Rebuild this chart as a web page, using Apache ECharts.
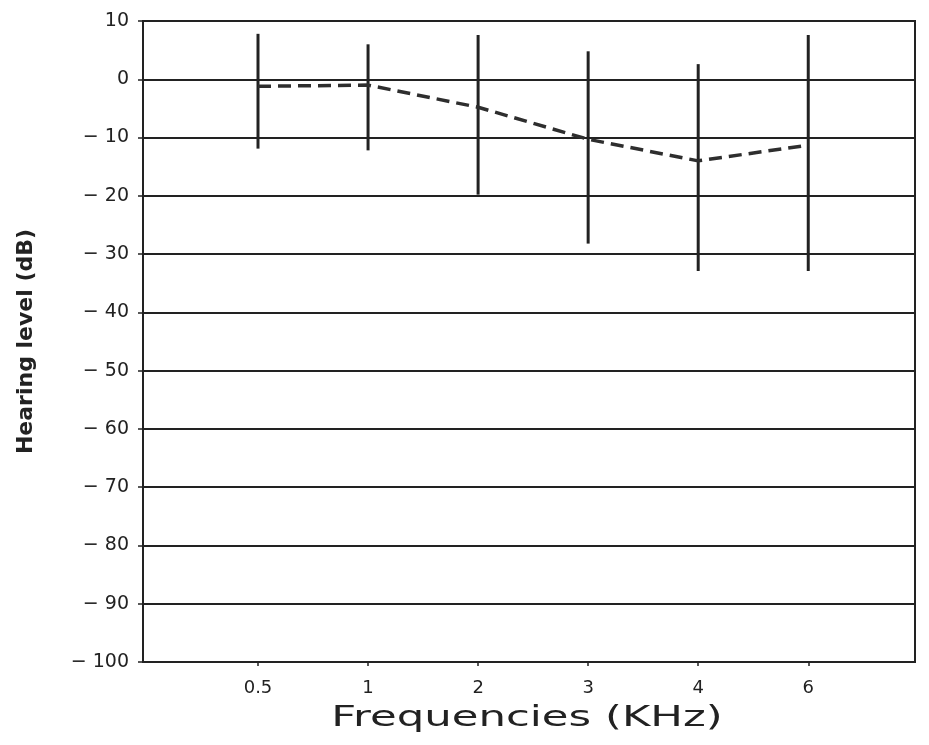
<!DOCTYPE html>
<html><head><meta charset="utf-8">
<script src="https://cdn.jsdelivr.net/npm/echarts@6/dist/echarts.min.js"></script>
<style>html,body{margin:0;padding:0;background:#fff}#c{width:929px;height:745px}</style>
</head><body><div id="c"></div>
<script>
// Data
var freqLabels = ['0.5', '1', '2', '3', '4', '6'];
var meanValues = [-1.2, -1.0, -4.8, -10.3, -14.0, -11.3];
var upperValues = [7.8, 6.0, 7.6, 4.8, 2.6, 7.6];
var lowerValues = [-11.9, -12.2, -19.8, -28.2, -32.9, -32.9];
var yTicks = [10, 0, -10, -20, -30, -40, -50, -60, -70, -80, -90, -100];
var xTitle = 'Frequencies (KHz)';
var yTitle = 'Hearing level (dB)';

var positions = freqLabels.map(function (_, i) { return i + 1; });
var lineData = positions.map(function (p, i) { return [p, meanValues[i]]; });
var barData = positions.map(function (p, i) { return [p, lowerValues[i], upperValues[i]]; });

var ink = '#222222';
var chart = echarts.init(document.getElementById('c'));
chart.setOption({
  backgroundColor: '#ffffff',
  animation: false,
  grid: { left: 143, right: 14, top: 21, bottom: 83, show: true, borderColor: ink, borderWidth: 2, backgroundColor: 'transparent' },
  graphic: [{
    type: 'text', x: 527, y: 719, scaleX: 1.55, scaleY: 1,
    style: { text: xTitle, font: '28px "DejaVu Sans"', fill: ink, textAlign: 'center', textVerticalAlign: 'middle' }
  }],
  xAxis: {
    type: 'value', min: -0.045, max: 6.97,
    axisLine: { show: true, onZero: false, lineStyle: { color: ink, width: 2 } },
    axisTick: { show: true, length: 4, customValues: positions, lineStyle: { color: ink, width: 1.5 } },
    splitLine: { show: false },
    axisLabel: {
      margin: 17, fontFamily: 'DejaVu Sans', fontSize: 18, color: ink,
      customValues: positions,
      formatter: function (v) { var i = Math.round(v) - 1; return freqLabels[i] || ''; }
    }
  },
  yAxis: {
    type: 'value', min: -100, max: 10, interval: 10,
    name: yTitle, nameLocation: 'middle', nameGap: 106, nameRotate: 90,
    nameTextStyle: { fontFamily: 'DejaVu Sans', fontSize: 22, fontWeight: 'bold', color: ink },
    axisLine: { show: true, onZero: false, lineStyle: { color: ink, width: 2 } },
    axisTick: { show: true, length: 5, lineStyle: { color: ink, width: 1.5 } },
    splitLine: { show: true, lineStyle: { color: ink, width: 2.2 } },
    axisLabel: {
      margin: 14, fontFamily: 'DejaVu Sans', fontSize: 19, color: ink,
      formatter: function (v) { return v < 0 ? '\u2212 ' + Math.abs(v) : String(v); }
    }
  },
  series: [
    {
      type: 'custom',
      data: barData,
      renderItem: function (params, api) {
        var top = api.coord([api.value(0), api.value(2)]);
        var bot = api.coord([api.value(0), api.value(1)]);
        return { type: 'line', shape: { x1: top[0], y1: top[1], x2: bot[0], y2: bot[1] },
          style: { stroke: ink, lineWidth: 3 } };
      },
      z: 3
    },
    {
      type: 'line',
      data: lineData,
      symbol: 'none',
      lineStyle: { color: '#2e2e2e', width: 3.5, type: [13, 7] },
      z: 4
    }
  ]
});
</script>
</body></html>
